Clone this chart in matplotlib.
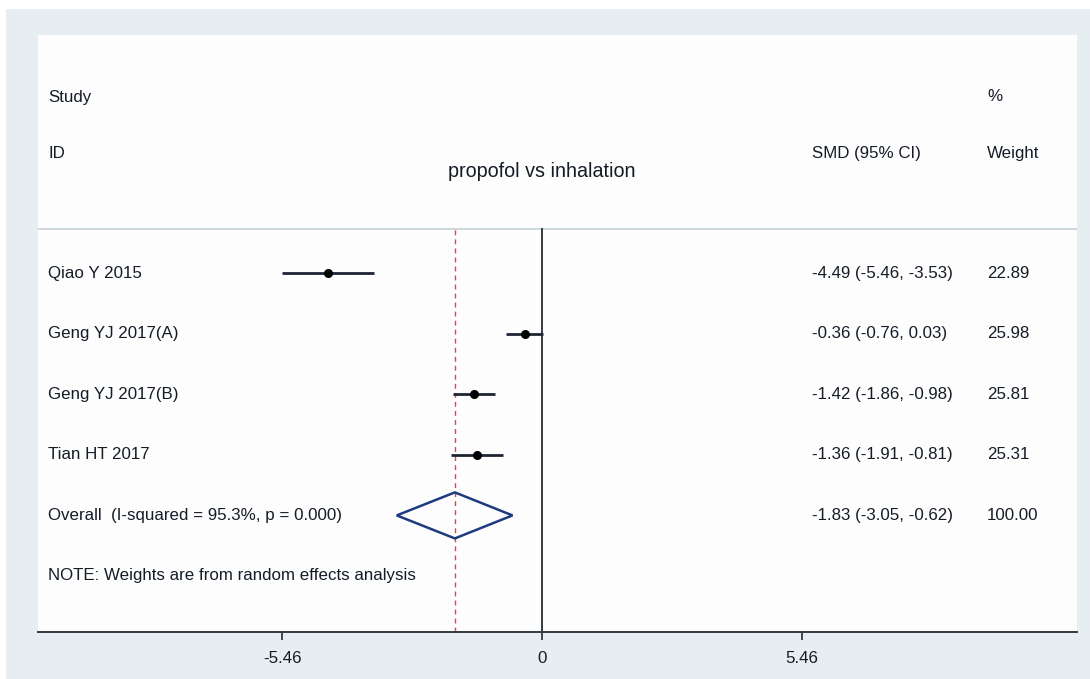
import matplotlib
matplotlib.use("Agg")
import matplotlib.pyplot as plt
from matplotlib.patches import Rectangle
from matplotlib.transforms import blended_transform_factory

plt.rcParams['font.family'] = ['Liberation Sans', 'DejaVu Sans']

# ---- data ----
studies = ["Qiao Y 2015", "Geng YJ 2017(A)", "Geng YJ 2017(B)", "Tian HT 2017"]
smd = [-4.49, -0.36, -1.42, -1.36]
ci_lo = [-5.46, -0.76, -1.86, -1.91]
ci_hi = [-3.53, 0.03, -0.98, -0.81]
weights = ["22.89", "25.98", "25.81", "25.31"]
overall_label = "Overall  (I-squared = 95.3%, p = 0.000)"
overall_est, overall_lo, overall_hi = -1.83, -3.05, -0.62
overall_weight = "100.00"
xticks = [-5.46, 0, 5.46]
xtick_labels = ["-5.46", "0", "5.46"]
title = "propofol vs inhalation"
note = "NOTE: Weights are from random effects analysis"

W, H = 1090, 679
fig = plt.figure(figsize=(W / 100, H / 100), dpi=100)
fig.patch.set_facecolor("white")
fig.patches.append(Rectangle((6 / W, 0), (W - 6) / W, 670 / H,
                             transform=fig.transFigure, facecolor="#e6eef1",
                             edgecolor="none", zorder=-10))

px_l, px_r, px_t, px_b = 38, 1077, 35, 632
ax = fig.add_axes([px_l / W, (H - px_b) / H, (px_r - px_l) / W, (px_b - px_t) / H])
ax.set_zorder(5)
ax.set_facecolor("#fdfdfe")

# x scale: 0 at px 542, 47.62 px per unit
ppu = 260 / 5.46
ax.set_xlim((px_l - 542) / ppu, (px_r - 542) / ppu)
row_px = 60.5
ax.set_ylim(-(632 - 576) / row_px, 5 + (273 - 35) / row_px)

def fx(px):
    return (px - px_l) / (px_r - px_l)

def ry(py):
    return 5 + (273 - py) / row_px

txt = "#141c26"
fs = 12.2
n = len(studies)
rows = [n - i + 1 for i in range(n)]  # 5,4,3,2
overall_y = 1
note_y = 0
sep_y = ry(229)
bt = blended_transform_factory(ax.transAxes, ax.transData)

# header
ax.text(fx(48), ry(97), "Study", transform=bt, fontsize=fs, color=txt, va="center", ha="left")
ax.text(fx(48), ry(153), "ID", transform=bt, fontsize=fs, color=txt, va="center", ha="left")
ax.text(fx(987), ry(96), "%", transform=bt, fontsize=fs, color=txt, va="center", ha="left")
ax.text(fx(987), ry(153), "Weight", transform=bt, fontsize=fs, color=txt, va="center", ha="left")
ax.text(fx(812), ry(153), "SMD (95% CI)", transform=bt, fontsize=fs, color=txt, va="center", ha="left")
ax.text(0, ry(171), title, fontsize=14.2, color=txt, va="center", ha="center")

# separator
ax.axhline(sep_y, color="#cdd9dd", lw=1.4, zorder=1)

# reference lines
ymin = ax.get_ylim()[0]
ax.plot([0, 0], [ymin, sep_y], color="#333a42", lw=1.4, zorder=2)
ax.plot([overall_est, overall_est], [ymin, sep_y], color="#c0505c",
        lw=1.0, dashes=(3.5, 3), zorder=2)

# studies
for y, name, e, lo, hi, w in zip(rows, studies, smd, ci_lo, ci_hi, weights):
    ax.plot([lo, hi], [y, y], color="#1c2632", lw=2.0, zorder=3, solid_capstyle="butt")
    ax.plot([e], [y], "o", color="black", markersize=5.5, zorder=4)
    ax.text(fx(48), y, name, transform=bt, fontsize=fs, color=txt, va="center", ha="left")
    ax.text(fx(812), y, f"{e:.2f} ({lo:.2f}, {hi:.2f})", transform=bt, fontsize=fs,
            color=txt, va="center", ha="left")
    ax.text(fx(987), y, w, transform=bt, fontsize=fs, color=txt, va="center", ha="left")

# overall diamond
h = 23 / row_px
ax.fill([overall_lo, overall_est, overall_hi, overall_est],
        [overall_y, overall_y + h, overall_y, overall_y - h],
        facecolor="none", edgecolor="#1e3a80", lw=1.8, zorder=3)
ax.text(fx(48), overall_y, overall_label, transform=bt, fontsize=fs, color=txt, va="center", ha="left")
ax.text(fx(812), overall_y, f"{overall_est:.2f} ({overall_lo:.2f}, {overall_hi:.2f})",
        transform=bt, fontsize=fs, color=txt, va="center", ha="left")
ax.text(fx(987), overall_y, overall_weight, transform=bt, fontsize=fs, color=txt, va="center", ha="left")

ax.text(fx(48), note_y, note, transform=bt, fontsize=fs, color=txt, va="center", ha="left")

# axes styling
for s in ["top", "right", "left"]:
    ax.spines[s].set_visible(False)
ax.spines["bottom"].set_color("#333a42")
ax.spines["bottom"].set_linewidth(1.4)
ax.set_yticks([])
ax.set_xticks(xticks)
ax.set_xticklabels(xtick_labels)
ax.tick_params(axis="x", length=6, width=1.3, color="#333a42", labelsize=fs,
               labelcolor=txt, pad=8)

fig.savefig("out.png", dpi=100, facecolor=fig.get_facecolor())
